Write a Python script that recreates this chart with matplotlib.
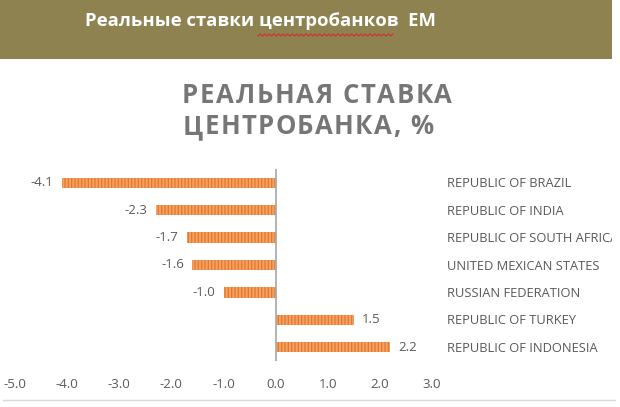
import numpy as np
import matplotlib
matplotlib.use("Agg")
import matplotlib.pyplot as plt
from matplotlib.patches import Rectangle
from matplotlib.font_manager import FontProperties

plt.rcParams['hatch.linewidth'] = 0.9
plt.rcParams['hatch.color'] = '#e6762a'

countries = ["REPUBLIC OF BRAZIL", "REPUBLIC OF INDIA", "REPUBLIC OF SOUTH AFRICA",
             "UNITED MEXICAN STATES", "RUSSIAN FEDERATION", "REPUBLIC OF TURKEY",
             "REPUBLIC OF INDONESIA"]
rates = [-4.1, -2.3, -1.7, -1.6, -1.0, 1.5, 2.2]
xticks = [-5.0, -4.0, -3.0, -2.0, -1.0, 0.0, 1.0, 2.0, 3.0]

header = "Реальные ставки центробанков  EM"
title_lines = ["РЕАЛЬНАЯ СТАВКА", "ЦЕНТРОБАНКА, %"]

W, H = 620, 407
fig = plt.figure(figsize=(W / 100, H / 100), dpi=100)
fig.patch.set_facecolor('white')
renderer = fig.canvas.get_renderer()
FAM = ['Open Sans', 'DejaVu Sans']


def adv(s, prop):
    w1, _, _ = renderer.get_text_width_height_descent("X" + s + "X", prop, ismath=False)
    w0, _, _ = renderer.get_text_width_height_descent("XX", prop, ismath=False)
    return w1 - w0


def tracked(xpx, ypx, s, prop, color, width, ha='center'):
    """Draw string with letter spacing; xpx, ypx in pixels from top-left, baseline."""
    full = adv(s, prop)
    tracking = (width - full) / max(len(s) - 1, 1)
    total = full + tracking * (len(s) - 1)
    x0 = xpx - total / 2 if ha == 'center' else xpx
    for i, ch in enumerate(s):
        if ch == ' ':
            continue
        xi = x0 + adv(s[:i], prop) + i * tracking
        fig.text(xi / W, 1 - ypx / H, ch, fontproperties=prop, color=color,
                 ha='left', va='baseline')


# header banner
fig.patches.append(Rectangle((0, 1 - 59 / H), 612 / W, 59 / H, transform=fig.transFigure,
                             facecolor='#8d8250', edgecolor='none', zorder=0))
fig.text(85 / W, 1 - 26 / H, header, ha='left', va='baseline', color='white',
         fontsize=13.3, fontweight='bold', family=FAM)
# spell-check wavy underline
xs = np.linspace(258, 393, 60)
ys = 35 + 1.0 * np.where(np.arange(60) % 2 == 0, 1, -1)
fig.add_artist(plt.Line2D(xs / W, 1 - ys / H, transform=fig.transFigure,
                          color='#d03030', lw=0.8))

# title with letter spacing
tprop = FontProperties(family=FAM, weight='bold', size=18.5)
tracked(317, 103, title_lines[0], tprop, '#767676', width=270)
tracked(308, 134, title_lines[1], tprop, '#767676', width=250)

# bottom border line
fig.add_artist(plt.Line2D([3 / W, 615 / W], [1 - 400 / H] * 2, transform=fig.transFigure,
                          color='#d9d9d9', lw=1))

ax = fig.add_axes([15 / W, 1 - 361 / H, 417 / W, (361 - 169) / H])
ax.set_facecolor('none')
y = np.arange(len(countries))
ax.barh(y, rates, height=0.38, color='#f4a264', edgecolor='#e6762a', hatch='|||||', lw=0)
ax.set_xlim(-5, 3)
ax.set_ylim(len(countries) - 0.5, -0.5)
for s in ax.spines.values():
    s.set_visible(False)
ax.axvline(0, color='#a6a6a6', lw=1.2)
ax.set_yticks([])
ax.set_xticks(xticks)
ax.set_xticklabels([f"{t:.1f}" for t in xticks], color='#595959', fontsize=9.5, family=FAM)
ax.tick_params(axis='x', length=0, pad=12)

for yi, v in zip(y, rates):
    off = -6 if v < 0 else 6
    ax.annotate(f"{v:.1f}", (v, yi), xytext=(off, 0), textcoords='offset points',
                ha='right' if v < 0 else 'left', va='center', color='#595959',
                fontsize=9.5, family=FAM)

# category labels at the right, clipped at the chart edge like the original
clip = Rectangle((0, 0), 612 / W, 1, transform=fig.transFigure, facecolor='none', edgecolor='none')
fig.add_artist(clip)
csize = 9.3
cap = 0.714 * csize * 100 / 72
for yi, c in zip(y, countries):
    ypix = H - ax.transData.transform((0, yi))[1]
    t = fig.text(447 / W, 1 - (ypix + cap / 2) / H, c, ha='left', va='baseline',
                 color='#595959', fontsize=csize, family=FAM)
    t.set_clip_path(clip)

fig.savefig("out.png", dpi=100)
